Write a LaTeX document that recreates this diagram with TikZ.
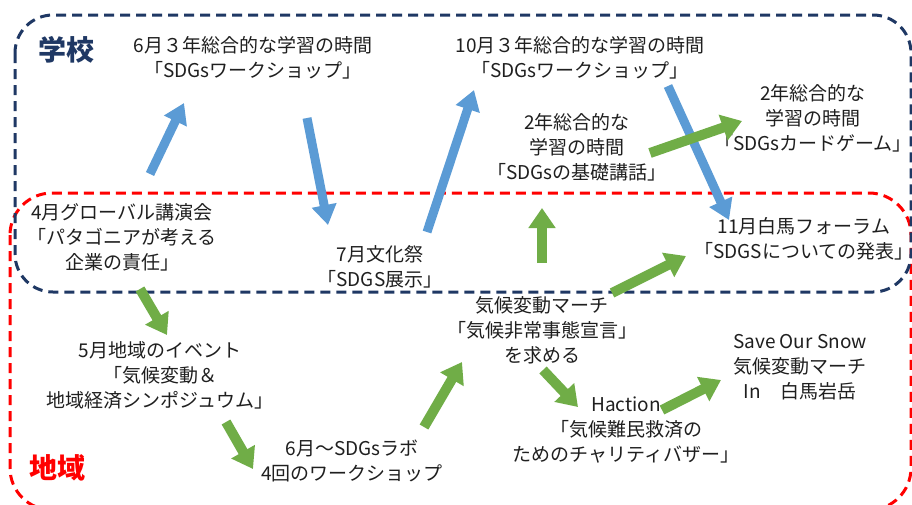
\documentclass[tikz,border=0pt]{standalone}
\usepackage{fontspec}
\setmainfont{Noto Sans CJK JP}
\usetikzlibrary{arrows.meta}
\definecolor{navy}{HTML}{1F3864}
\definecolor{myred}{HTML}{FF0000}
\definecolor{ablue}{HTML}{5B9BD5}
\definecolor{agreen}{HTML}{70AD47}
\begin{document}
\begin{tikzpicture}[x=1pt,y=-1pt,
  lbl/.style={font=\fontsize{19}{25}\selectfont, align=center, inner sep=0pt, text=black!88},
  bluearrow/.style={draw=ablue, line width=9pt, -{Triangle[length=20pt,width=24pt]}},
  greenarrow/.style={draw=agreen, line width=10pt, -{Triangle[length=20pt,width=26pt]}},
  region/.style={dash pattern=on 10pt off 6pt, line width=3pt},
  title/.style={font=\bfseries\fontsize{28}{30}\selectfont, inner sep=0pt}]
\useasboundingbox (0,0) rectangle (912,504);
\clip (0,0) rectangle (912,504);
\fill[white] (0,0) rectangle (912,504);
% regions
\draw[region, draw=myred, rounded corners=42pt] (10,193) rectangle (911,510);
\draw[region, draw=navy, rounded corners=38pt] (15,15) rectangle (911,292);
\node[title, text=navy] (school) at (66,50) {学校};
\node[title, text=myred] (region) at (57,468) {地域};
% labels
\node[lbl] (t1) at (253,57.5) {6月３年総合的な学習の時間\\「SDGsワークショップ」};
\node[lbl] (t2) at (580,57.5) {10月３年総合的な学習の時間\\「SDGsワークショップ」};
\node[lbl] (t3) at (577,147) {2年総合的な\\学習の時間\\「SDGsの基礎講話」};
\node[lbl] (t4) at (813,118) {2年総合的な\\学習の時間\\「SDGsカードゲーム」};
\node[lbl] (t5) at (122,237) {4月グローバル講演会\\「パタゴニアが考える\\企業の責任」};
\node[lbl] (t6) at (380,266.5) {7月文化祭\\「SDGS展示」};
\node[lbl] (t7) at (804,238.5) {11月白馬フォーラム\\「SDGSについての発表」};
\node[lbl] (t8) at (542,330) {気候変動マーチ\\「気候非常事態宣言」\\を求める};
\node[lbl] (t9) at (800,367) {Save Our Snow\\気候変動マーチ\\In　白馬岩岳};
\node[lbl] (t10) at (160,375) {5月地域のイベント\\「気候変動＆\\地域経済シンポジュウム」};
\node[lbl] (t11) at (352,460.5) {6月～SDGsラボ\\4回のワークショップ};
\node[lbl] (t12) at (626,430) {Haction\\「気候難民救済の\\ためのチャリティバザー」};
% arrow end points
\coordinate (a1s) at (150,174); \coordinate (a1e) at (184,103);
\coordinate (a2s) at (307,118); \coordinate (a2e) at (328,225);
\coordinate (a3s) at (427,232); \coordinate (a3e) at (474,90);
\coordinate (a4s) at (668,86);  \coordinate (a4e) at (729,220);
\coordinate (g1s) at (650,153); \coordinate (g1e) at (742,121);
\coordinate (g2s) at (542,263); \coordinate (g2e) at (542,208);
\coordinate (g3s) at (612,293); \coordinate (g3e) at (686,256);
\coordinate (g4s) at (140,289); \coordinate (g4e) at (167,335);
\coordinate (g5s) at (226,422); \coordinate (g5e) at (253,469);
\coordinate (g6s) at (424,427); \coordinate (g6e) at (462,362);
\coordinate (g7s) at (543,370); \coordinate (g7e) at (578,407);
\coordinate (g8s) at (662,410); \coordinate (g8e) at (721,380);
% blue arrows
\draw[bluearrow] (a1s) -- (a1e);
\draw[bluearrow] (a2s) -- (a2e);
\draw[bluearrow] (a3s) -- (a3e);
\draw[bluearrow] (a4s) -- (a4e);
% green arrows
\draw[greenarrow] (g1s) -- (g1e);
\draw[greenarrow] (g2s) -- (g2e);
\draw[greenarrow] (g3s) -- (g3e);
\draw[greenarrow] (g4s) -- (g4e);
\draw[greenarrow] (g5s) -- (g5e);
\draw[greenarrow] (g6s) -- (g6e);
\draw[greenarrow] (g7s) -- (g7e);
\draw[greenarrow] (g8s) -- (g8e);
\end{tikzpicture}
\end{document}
